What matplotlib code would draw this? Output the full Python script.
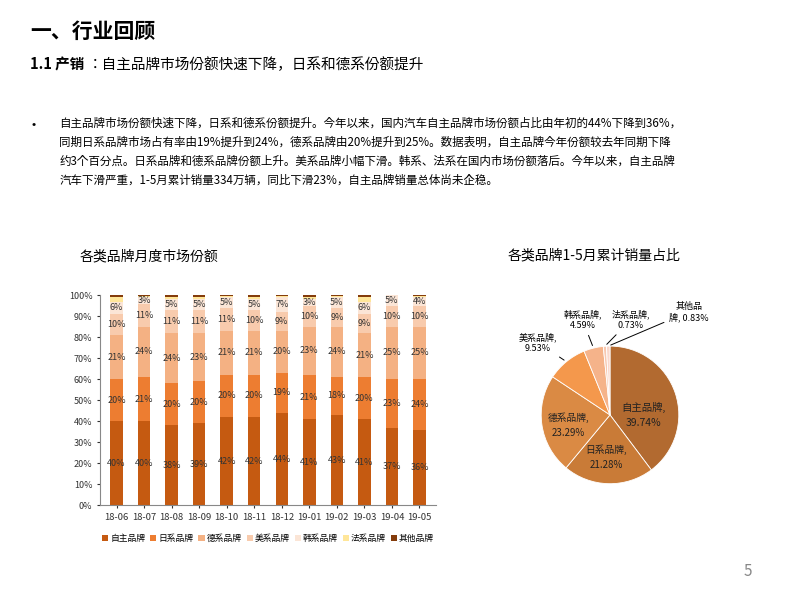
import numpy as np
import matplotlib.pyplot as plt
from matplotlib import font_manager

# pick whatever CJK font is installed
cjk = [f.name for f in font_manager.fontManager.ttflist if "CJK" in f.name]
plt.rcParams["font.family"] = "sans-serif"
plt.rcParams["font.sans-serif"] = (["Noto Sans CJK SC"] if "Noto Sans CJK SC" in cjk else sorted(set(cjk))[:1]) + ["DejaVu Sans"]

# ---- data ----
months = ["18-06", "18-07", "18-08", "18-09", "18-10", "18-11", "18-12",
          "19-01", "19-02", "19-03", "19-04", "19-05"]
brands = ["自主品牌", "日系品牌", "德系品牌", "美系品牌", "韩系品牌", "法系品牌", "其他品牌"]
share_own = [40, 40, 38, 39, 42, 42, 44, 41, 43, 41, 37, 36]
share_jp = [20, 21, 20, 20, 20, 20, 19, 21, 18, 20, 23, 24]
share_de = [21, 24, 24, 23, 21, 21, 20, 23, 24, 21, 25, 25]
share_us = [10, 11, 11, 11, 11, 10, 9, 10, 9, 9, 10, 10]
share_kr = [6, 3, 5, 5, 5, 5, 7, 3, 5, 6, 5, 4]
share_fr = [2, 0.5, 1, 1, 0.5, 1, 0.5, 1, 0.5, 2, 0.3, 0.5]
share_other = [1, 0.5, 1, 1, 0.5, 1, 0.5, 1, 0.5, 1, 0.3, 0.5]

pie_labels = ["自主品牌", "日系品牌", "德系品牌", "美系品牌", "韩系品牌", "法系品牌", "其他品牌"]
pie_values = [39.74, 21.28, 23.29, 9.53, 4.59, 0.73, 0.83]

bar_colors = ["#C55A11", "#ED7D31", "#F4B183", "#F8CBAD", "#FBE5D6", "#FFE699", "#843C0C"]
pie_colors = ["#B26A30", "#C97B37", "#DA8A44", "#F4984C", "#F5B38A", "#F8C8B0", "#FAD8CC"]

fig = plt.figure(figsize=(8, 6), dpi=100)
fig.patch.set_facecolor("white")

# ---- slide text ----
fig.text(0.038, 0.948, "一、行业回顾", fontsize=15, fontweight="bold", va="center")
fig.text(0.038, 0.892, "1.1 产销", fontsize=10.5, fontweight="bold", va="center")
fig.text(0.11, 0.892, "：自主品牌市场份额快速下降，日系和德系份额提升",
         fontsize=10.5, va="center")
fig.text(0.04, 0.793, "•", fontsize=9, va="center")
body = ("自主品牌市场份额快速下降，日系和德系份额提升。今年以来，国内汽车自主品牌市场份额占比由年初的44%下降到36%，\n"
        "同期日系品牌市场占有率由19%提升到24%，德系品牌由20%提升到25%。数据表明，自主品牌今年份额较去年同期下降\n"
        "约3个百分点。日系品牌和德系品牌份额上升。美系品牌小幅下滑。韩系、法系在国内市场份额落后。今年以来，自主品牌\n"
        "汽车下滑严重，1-5月累计销量334万辆，同比下滑23%，自主品牌销量总体尚未企稳。")
fig.text(0.074, 0.805, body, fontsize=8.3, va="top", linespacing=1.6)
fig.text(0.1, 0.572, "各类品牌月度市场份额", fontsize=10, va="center")
fig.text(0.635, 0.575, "各类品牌1-5月累计销量占比", fontsize=10, va="center")
fig.text(0.93, 0.04, "5", fontsize=11, color="#888888")

# ---- stacked bar ----
ax = fig.add_axes([0.125, 0.158, 0.42, 0.35])
series = [share_own, share_jp, share_de, share_us, share_kr, share_fr, share_other]
x = np.arange(len(months))
bottom = np.zeros(len(months))
for i, (vals, name) in enumerate(zip(series, brands)):
    v = np.array(vals, dtype=float) / 100
    ax.bar(x, v, 0.45, bottom=bottom, color=bar_colors[i], label=name)
    if i < 5:
        for xi, b, h, raw in zip(x, bottom, v, vals):
            ax.text(xi, b + h / 2, f"{raw}%", ha="center", va="center",
                    fontsize=6.5, color="#333333")
    bottom += v
ax.set_ylim(0, 1)
ax.set_xlim(-0.6, len(months) - 0.4)
ax.set_yticks(np.arange(0, 1.01, 0.1))
ax.set_yticklabels([f"{int(round(t * 100))}%" for t in np.arange(0, 1.01, 0.1)], fontsize=6.5)
ax.set_xticks(x)
ax.set_xticklabels(months, fontsize=6.8)
for s in ["top", "right"]:
    ax.spines[s].set_visible(False)
ax.spines["left"].set_color("#888888")
ax.spines["bottom"].set_color("#888888")
ax.tick_params(length=2, colors="#333333")
ax.legend(loc="upper center", bbox_to_anchor=(0.5, -0.1), ncol=7, frameon=False,
          fontsize=6.3, handlelength=0.7, handletextpad=0.2, columnspacing=0.6)

# ---- pie ----
pax = fig.add_axes([0.655, 0.165, 0.215, 0.287])
wedges, _ = pax.pie(pie_values, colors=pie_colors, startangle=90, counterclock=False,
                    wedgeprops=dict(edgecolor="white", linewidth=0.6))
pax.set_aspect("equal")
inner = {0: (0.48, 0.0), 1: (-0.05, -0.62), 2: (-0.6, -0.15)}
for i, (w, lab, val) in enumerate(zip(wedges, pie_labels, pie_values)):
    if i in inner:
        tx, ty = inner[i]
        pax.text(tx, ty, f"{lab},\n{val:.2f}%", ha="center", va="center",
                 fontsize=7.5 if i == 0 else 7, linespacing=1.6, color="#222222")
outer = {3: (-1.05, 1.05, "美系品牌,\n9.53%"), 4: (-0.4, 1.38, "韩系品牌,\n4.59%"),
         5: (0.3, 1.38, "法系品牌,\n0.73%"), 6: (1.15, 1.5, "其他品\n牌, 0.83%")}
for i, (tx, ty, txt) in outer.items():
    w = wedges[i]
    ang = np.deg2rad((w.theta1 + w.theta2) / 2)
    pax.annotate(txt, xy=(np.cos(ang), np.sin(ang)), xytext=(tx, ty),
                 ha="center", va="center", fontsize=6.5, annotation_clip=False,
                 arrowprops=dict(arrowstyle="-", color="black", lw=0.7))

fig.savefig("out.png", dpi=100)
